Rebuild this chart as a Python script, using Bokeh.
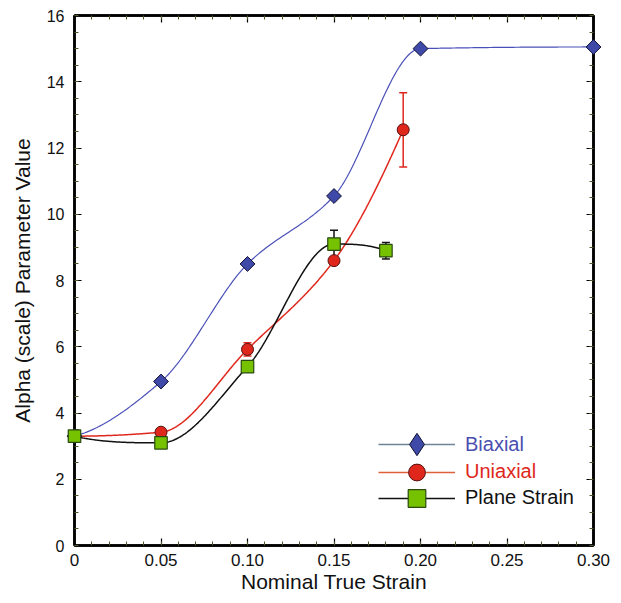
import numpy as np
from bokeh.plotting import figure
from bokeh.models import (Range1d, LinearAxis, Whisker, TeeHead, ColumnDataSource,
                          Legend, LegendItem, FixedTicker, CustomJSTickFormatter)
from bokeh.embed import file_html
from bokeh.resources import INLINE

# ---- data ----
bi_x = [0.0, 0.05, 0.10, 0.15, 0.20, 0.30]
bi_y = [3.3, 4.95, 8.5, 10.55, 15.0, 15.05]

uni_x = [0.0, 0.05, 0.10, 0.15, 0.19]
uni_y = [3.3, 3.42, 5.92, 8.6, 12.55]
uni_err = [0.0, 0.08, 0.2, 0.1, 1.12]

ps_x = [0.0, 0.05, 0.10, 0.15, 0.18]
ps_y = [3.3, 3.1, 5.4, 9.1, 8.9]
ps_err = [0.0, 0.0, 0.0, 0.42, 0.25]

x_ticks = [0.0, 0.05, 0.10, 0.15, 0.20, 0.25, 0.30]
x_tick_labels = ["0", "0.05", "0.10", "0.15", "0.20", "0.25", "0.30"]
y_ticks = [0, 2, 4, 6, 8, 10, 12, 14, 16]

FONT = "Liberation Sans"


def pchip(x, y, n=300):
    x = np.asarray(x, float); y = np.asarray(y, float)
    h = np.diff(x); d = np.diff(y) / h
    m = np.zeros_like(y)
    for k in range(1, len(x) - 1):
        if d[k - 1] * d[k] <= 0:
            m[k] = 0.0
        else:
            w1 = 2 * h[k] + h[k - 1]; w2 = h[k] + 2 * h[k - 1]
            m[k] = (w1 + w2) / (w1 / d[k - 1] + w2 / d[k])
    def end(h0, h1, d0, d1):
        v = ((2 * h0 + h1) * d0 - h0 * d1) / (h0 + h1)
        if np.sign(v) != np.sign(d0):
            v = 0.0
        elif np.sign(d0) != np.sign(d1) and abs(v) > abs(3 * d0):
            v = 3 * d0
        return v
    if len(x) > 2:
        m[0] = end(h[0], h[1], d[0], d[1])
        m[-1] = end(h[-1], h[-2], d[-1], d[-2])
    xs = np.linspace(x[0], x[-1], n)
    idx = np.clip(np.searchsorted(x, xs) - 1, 0, len(x) - 2)
    t = (xs - x[idx]) / h[idx]
    h00 = 2 * t**3 - 3 * t**2 + 1; h10 = t**3 - 2 * t**2 + t
    h01 = -2 * t**3 + 3 * t**2; h11 = t**3 - t**2
    ys = h00 * y[idx] + h10 * h[idx] * m[idx] + h01 * y[idx + 1] + h11 * h[idx] * m[idx + 1]
    return xs, ys


p = figure(width=613, height=595, output_backend="svg", toolbar_location=None,
           x_range=Range1d(0, 0.30), y_range=Range1d(0, 16),
           min_border_left=74, min_border_right=20, min_border_top=15, min_border_bottom=50)
p.xgrid.visible = False
p.ygrid.visible = False
p.outline_line_color = "black"
p.outline_line_width = 2.5

BLUE_L = "#4a50b8"; BLUE_F = "#3f4aa8"; BLUE_T = "#4a4fb0"
RED = "#e0271c"
GREEN_F = "#77c200"; GREEN_L = "#2a4a10"

bx, by = pchip(bi_x, bi_y)
ux, uy = pchip(uni_x, uni_y)
px_, py_ = pchip(ps_x, ps_y)

p.line(bx, by, line_color=BLUE_L, line_width=1.2)
p.line(ux, uy, line_color=RED, line_width=1.5)
p.line(px_, py_, line_color="#111111", line_width=1.5)

# error bars
usrc = ColumnDataSource(dict(x=uni_x, lo=[a - e for a, e in zip(uni_y, uni_err)],
                             hi=[a + e for a, e in zip(uni_y, uni_err)]))
psrc = ColumnDataSource(dict(x=ps_x, lo=[a - e for a, e in zip(ps_y, ps_err)],
                             hi=[a + e for a, e in zip(ps_y, ps_err)]))
for src, col in ((usrc, RED), (psrc, "#111111")):
    w = Whisker(source=src, base="x", lower="lo", upper="hi", line_color=col, line_width=1.5,
                upper_head=TeeHead(size=8, line_color=col, line_width=1.5),
                lower_head=TeeHead(size=8, line_color=col, line_width=1.5))
    p.add_layout(w)

m_bi = p.scatter(bi_x, bi_y, marker="square", size=10.5, angle=np.pi / 4,
                 fill_color=BLUE_F, line_color="#111133", line_width=1)
m_uni = p.scatter(uni_x, uni_y, marker="circle", size=12,
                  fill_color=RED, line_color="#551111", line_width=1)
m_ps = p.scatter(ps_x, ps_y, marker="square", size=12.5,
                 fill_color=GREEN_F, line_color=GREEN_L, line_width=1.2)
for r in (m_bi, m_uni, m_ps):
    r.level = "overlay"

# axes
def style(ax, labels=True, size="16px"):
    ax.axis_line_width = 2.5
    ax.major_tick_in = 7; ax.major_tick_out = 0
    ax.minor_tick_in = 4; ax.minor_tick_out = 0
    ax.major_tick_line_width = 1.2
    ax.minor_tick_line_color = "#4a5a2a"
    ax.major_label_text_font = FONT
    ax.major_label_text_font_size = size
    ax.major_label_text_color = "#111111"
    ax.axis_label_text_font = FONT
    ax.axis_label_text_font_size = "21px"
    ax.axis_label_text_font_style = "normal"
    ax.axis_label_text_color = "#111111"
    if not labels:
        ax.formatter = CustomJSTickFormatter(code="return ''")

xt = FixedTicker(ticks=x_ticks, minor_ticks=[i / 100 for i in range(31)])
yt = FixedTicker(ticks=y_ticks, minor_ticks=[i / 2 for i in range(33)])

p.xaxis.ticker = xt
p.yaxis.ticker = yt
p.xaxis.major_label_overrides = {t: s for t, s in zip(x_ticks, x_tick_labels)}
p.xaxis.axis_label = "Nominal True Strain"
p.yaxis.axis_label = "Alpha (scale) Parameter Value"
style(p.xaxis[0], size="17px"); style(p.yaxis[0], size="16px")
p.xaxis.major_label_standoff = 8
p.yaxis.major_label_standoff = 10
p.xaxis.axis_label_standoff = 1
p.yaxis.axis_label_standoff = 10

ax_r = LinearAxis(ticker=yt); style(ax_r, False)
ax_t = LinearAxis(ticker=xt); style(ax_t, False)
p.add_layout(ax_r, "right")
p.add_layout(ax_t, "above")

# legend-only renderers (one NaN point each, so they draw nothing in the plot)
nan = [float("nan")]
lg_bi = [p.line(x=nan, y=nan, line_color="#6e8596", line_width=1.5),
         p.scatter(x=nan, y=nan, marker="diamond", fill_color=BLUE_F, line_color="#111133", line_width=1)]
lg_uni = [p.line(x=nan, y=nan, line_color="#e0603a", line_width=1.5),
          p.scatter(x=nan, y=nan, marker="circle", fill_color=RED, line_color="#551111", line_width=1)]
lg_ps = [p.line(x=nan, y=nan, line_color="#111111", line_width=1.5),
         p.scatter(x=nan, y=nan, marker="square", fill_color=GREEN_F, line_color=GREEN_L, line_width=1.2)]

# (label, text colour, renderers, centre above frame bottom, glyph height)
items = [("Biaxial", BLUE_T, lg_bi, 101, 56),
         ("Uniaxial", RED, lg_uni, 73.5, 42),
         ("Plane Strain", "#111111", lg_ps, 47.5, 44)]
for label, col, rs, yc, gh in items:
    lg = Legend(items=[LegendItem(label=label, renderers=rs)], location=(304, yc - gh / 2),
                glyph_width=77, glyph_height=gh, label_height=gh, label_standoff=10,
                padding=0, margin=0, spacing=0,
                border_line_alpha=0, background_fill_alpha=0,
                label_text_font=FONT, label_text_font_size="20px", label_text_color=col)
    p.add_layout(lg)

open("out.html", "w").write(file_html(p, INLINE))
